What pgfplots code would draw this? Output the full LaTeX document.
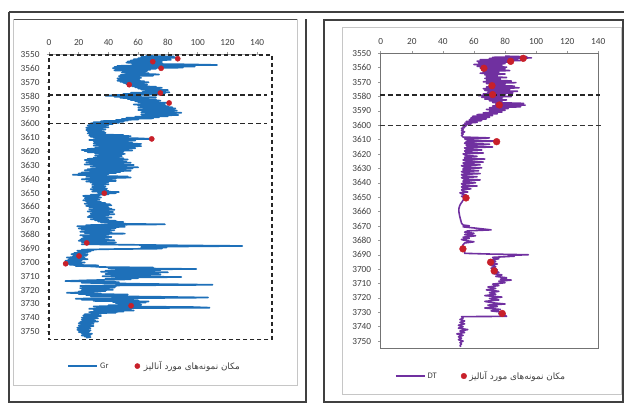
\documentclass[border=0pt]{standalone}
\usepackage{pgfplots}
\pgfplotsset{compat=1.18}
\usepackage{fontspec}
\setmainfont{Carlito}
\newfontfamily\arabicfont[Script=Arabic]{DejaVu Sans}
\TeXXeTstate=1
\definecolor{grblue}{RGB}{30,112,185}
\definecolor{dtpurple}{RGB}{112,48,160}
\definecolor{dotred}{RGB}{200,32,42}
\definecolor{ticktext}{RGB}{64,64,64}
\newcommand{\fa}{{\arabicfont\fontsize{8.8}{10}\selectfont\beginR مکان نمونه‌های مورد آنالیز\endR}}
\pgfplotsset{
  logstyle/.style={
    scale only axis, clip=false, y dir=reverse,
    /pgf/number format/assume math mode=true,
    /pgf/number format/1000 sep={},
    tick label style={font=\fontsize{9.3}{10}\selectfont, text=ticktext},
    yticklabel style={xshift=-3.5pt},
    xticklabel style={yshift=3pt},
    tick style={gray!80, line width=0.5pt},
    major tick length=2.5pt,
    xtick={0,20,...,140}, ytick={3550,3560,...,3750},
    xtick pos=upper, ytick pos=left,
    xticklabel pos=upper,
    tick align=outside,
    legend cell align=left,
  }
}
\begin{document}
\begin{tikzpicture}
\path[use as bounding box, fill=white] (0pt,0pt) rectangle (624pt,404pt);
% frames
\draw[line width=1.6pt, black!75] (9pt,392pt) -- (624pt,392pt);
\draw[line width=1.6pt, black!75] (9pt,392pt) -- (9pt,2pt) -- (306pt,2pt) -- (306pt,385pt);
\draw[line width=1.2pt, black!70] (13pt,384.5pt) -- (297pt,384.5pt);
\draw[gray!45, line width=0.8pt] (13pt,384.5pt) -- (13pt,19pt) -- (297pt,19pt) -- (297pt,384.5pt);
\draw[line width=1.6pt, black!75] (324pt,2pt) -- (324pt,384pt) -- (623.2pt,384pt) -- (623.2pt,2pt) -- cycle;
\draw[gray!45, line width=0.8pt] (342pt,10pt) rectangle (621pt,377pt);

% ---------------- GR -----------------
\begin{axis}[logstyle, at={(49pt,64.7pt)}, anchor=south west, width=223pt, height=285pt,
  xmin=0, xmax=150, ymin=3550, ymax=3755.5,
  axis line style={draw=none},
  legend style={at={(0.473,-0.094)}, anchor=center, draw=none, fill=none,
    font=\fontsize{8.5}{9}\selectfont, text=ticktext, legend columns=2,
    /tikz/every even column/.append style={column sep=24pt}},
]
\addplot[grblue, line width=1.7pt, line join=round,
  legend image code/.code={\draw[grblue, line width=2pt] (0pt,0pt) -- (29pt,0pt);}]
 table[x=v,y=d] {
v d
65 3551.2
84 3551.6
62 3552.0
87 3552.4
60 3552.8
80 3553.2
57 3553.6
82 3554.0
55 3554.4
74 3554.8
53 3555.2
76 3555.6
52 3556.0
70 3556.4
56 3556.8
95 3557.3
113 3557.7
60 3558.0
46 3558.4
98 3558.8
44 3559.2
90 3559.6
43 3560.0
72 3560.4
45 3560.8
68 3561.2
44 3561.6
66 3562.0
50 3562.4
64 3562.8
49 3563.2
67 3563.6
52 3564.0
74 3564.5
48 3565.0
70 3565.4
47 3565.8
60 3566.2
48 3566.6
62 3567.0
46 3567.4
58 3567.8
47 3568.2
61 3568.6
46 3569.0
64 3569.4
48 3569.8
67 3570.2
50 3570.6
62 3571.0
52 3571.4
66 3571.8
54 3572.2
63 3572.6
56 3573.0
72 3573.4
58 3573.8
76 3574.2
60 3574.6
74 3575.0
62 3575.4
80 3575.8
65 3576.2
78 3576.6
63 3577.0
81 3577.4
55 3577.8
78 3578.2
50 3578.6
75 3579.0
45 3579.4
38 3579.9
60 3580.2
44 3580.6
72 3581.0
48 3581.4
66 3581.8
53 3582.2
72 3582.6
55 3583.0
75 3583.4
58 3583.8
73 3584.2
60 3584.6
80 3585.0
62 3585.4
76 3585.8
57 3586.2
78 3586.6
60 3587.0
80 3587.4
62 3587.8
83 3588.2
60 3588.6
85 3589.0
64 3589.4
82 3589.8
60 3590.2
86 3590.6
63 3591.0
84 3591.4
62 3591.8
89 3592.2
65 3592.6
85 3593.0
62 3593.4
87 3593.8
64 3594.2
80 3594.6
58 3595.0
74 3595.4
52 3595.8
70 3596.2
49 3596.6
60 3597.0
45 3597.4
53 3597.8
35 3598.2
50 3598.6
30 3599.0
47 3599.4
28 3599.8
43 3600.2
27 3600.6
40 3601.0
26 3601.4
38 3601.8
27 3602.2
40 3602.6
25 3603.0
36 3603.4
26 3603.8
38 3604.2
25 3604.6
35 3605.0
26 3605.4
37 3605.8
27 3606.2
38 3606.6
26 3607.0
36 3607.4
28 3607.8
50 3608.2
27 3608.6
55 3609.0
28 3609.4
48 3609.8
30 3610.2
60 3610.6
69 3611.0
40 3611.4
27 3611.8
58 3612.2
30 3612.6
52 3613.0
31 3613.4
56 3613.8
30 3614.2
62 3614.6
32 3615.0
55 3615.4
30 3615.8
62 3616.2
34 3616.6
50 3617.0
31 3617.4
58 3617.8
26 3618.2
45 3618.6
22 3619.0
56 3619.4
24 3619.8
50 3620.2
26 3620.6
48 3621.0
31 3621.4
51 3621.8
34 3622.2
46 3622.6
31 3623.0
49 3623.4
33 3623.8
45 3624.2
30 3624.6
50 3625.0
26 3625.4
53 3625.8
24 3626.2
48 3626.6
27 3627.0
52 3627.4
25 3627.8
55 3628.2
28 3628.6
50 3629.0
24 3629.4
57 3629.8
30 3630.2
52 3630.6
28 3631.0
60 3631.5
32 3632.0
56 3632.4
26 3632.8
50 3633.2
24 3633.6
55 3634.0
30 3634.4
48 3634.8
22 3635.2
45 3635.6
20 3636.0
40 3636.4
16 3636.9
38 3637.3
25 3637.7
53 3638.1
30 3638.5
55 3638.9
25 3639.3
45 3639.7
22 3640.1
42 3640.5
27 3640.9
45 3641.3
25 3641.7
40 3642.1
28 3642.5
38 3642.9
30 3643.3
40 3643.7
29 3644.1
36 3644.5
31 3644.9
38 3645.3
29 3645.7
35 3646.1
30 3646.5
39 3646.9
28 3647.3
34 3647.7
30 3648.1
40 3648.5
29 3648.9
47 3649.3
33 3649.7
45 3650.1
36 3650.5
40 3650.9
28 3651.3
34 3651.7
23 3652.1
33 3652.5
25 3652.9
35 3653.3
24 3653.7
30 3654.1
26 3654.5
34 3654.9
23 3655.3
32 3655.7
25 3656.1
35 3656.5
26 3656.9
38 3657.3
24 3657.7
41 3658.1
28 3658.5
42 3658.9
25 3659.3
36 3659.7
27 3660.1
40 3660.5
30 3660.9
42 3661.3
27 3661.7
44 3662.1
29 3662.5
40 3662.9
26 3663.3
43 3663.7
30 3664.1
38 3664.5
28 3664.9
44 3665.3
30 3665.7
40 3666.1
27 3666.5
36 3666.9
26 3667.3
42 3667.7
30 3668.1
38 3668.5
28 3668.9
40 3669.3
31 3669.7
45 3670.1
33 3670.5
50 3670.9
35 3671.3
45 3671.7
40 3672.1
78 3672.6
45 3672.9
25 3673.2
40 3673.6
19 3674.0
51 3674.4
22 3674.8
45 3675.2
20 3675.6
40 3676.0
22 3676.4
44 3676.8
25 3677.2
38 3677.6
21 3678.0
42 3678.4
24 3678.8
51 3679.3
28 3679.7
40 3680.1
21 3680.5
37 3680.9
23 3681.3
42 3681.7
25 3682.1
35 3682.5
22 3682.9
40 3683.3
21 3683.7
44 3684.1
20 3684.5
38 3684.9
22 3685.3
45 3685.7
25 3686.1
40 3686.5
22 3686.9
50 3687.3
90 3687.8
130 3688.2
95 3688.5
62 3688.9
79 3689.3
62 3689.7
76 3690.1
40 3690.5
22 3690.9
30 3691.3
19 3691.7
28 3692.1
20 3692.5
26 3692.9
17 3693.3
24 3693.7
15 3694.1
26 3694.5
20 3694.9
25 3695.3
16 3695.7
22 3696.1
12 3696.5
24 3696.9
14 3697.3
26 3697.7
13 3698.1
22 3698.5
11 3698.9
20 3699.3
13 3699.7
24 3700.1
11 3700.6
10 3701.0
22 3701.4
14 3701.8
33 3702.2
18 3702.6
30 3703.0
35 3703.4
70 3703.8
40 3704.2
99 3704.8
45 3705.2
75 3705.6
38 3706.0
70 3706.4
35 3706.8
80 3707.2
40 3707.6
65 3708.0
38 3708.4
75 3708.8
42 3709.2
68 3709.6
36 3710.0
89 3710.6
45 3711.0
60 3711.4
38 3711.8
55 3712.2
40 3712.6
25 3713.0
11 3713.5
30 3713.9
47 3714.3
22 3714.7
40 3715.1
60 3715.5
110 3716.2
50 3716.6
21 3717.0
45 3717.4
25 3717.8
44 3718.2
21 3718.6
40 3719.0
24 3719.4
43 3719.8
22 3720.2
38 3720.6
20 3721.0
30 3721.4
12 3722.0
35 3722.4
20 3722.8
53 3723.2
25 3723.6
50 3724.0
28 3724.4
70 3724.8
107 3725.4
60 3725.8
18 3726.2
45 3726.6
22 3727.0
60 3727.4
30 3727.8
67 3728.2
43 3728.6
65 3729.0
45 3729.4
60 3729.8
48 3730.2
62 3730.6
40 3731.0
55 3731.4
30 3731.8
95 3732.2
108 3732.7
40 3733.1
27 3733.5
55 3733.9
30 3734.3
57 3734.7
35 3735.1
50 3735.5
27 3735.9
45 3736.3
30 3736.7
35 3737.1
24 3737.5
33 3737.9
23 3738.3
35 3738.7
25 3739.1
32 3739.5
22 3739.9
33 3740.3
24 3740.7
30 3741.1
22 3741.5
31 3741.9
23 3742.3
33 3742.7
21 3743.1
29 3743.5
20 3743.9
30 3744.3
22 3744.7
28 3745.1
20 3745.5
30 3745.9
21 3746.3
27 3746.7
19 3747.1
28 3747.5
20 3747.9
26 3748.3
19 3748.7
28 3749.1
21 3749.5
27 3749.9
20 3750.3
26 3750.7
22 3751.1
29 3751.5
23 3751.9
28 3752.3
22 3752.7
27 3753.1
24 3753.5
28 3753.9
25 3754.3
};
\addlegendentry{Gr}
\addplot[only marks, mark=*, mark size=2.6pt, mark options={fill=dotred, draw=dotred},
  legend image code/.code={\fill[dotred] (2.6pt,0pt) circle (2.6pt); \path (7pt,0pt);}]
 coordinates {(86.6,3553.2) (69.8,3555.3) (75.4,3560.1) (54,3571.9) (74.9,3577.9) (80.8,3585.1)
  (69.1,3611) (37.2,3650.2) (25.4,3686) (20.2,3695.4) (11.2,3701) (55.2,3731.3)};
\addlegendentry{\fa}
\addplot[forget plot, gray!70, line width=0.6pt] coordinates {(0,3550) (144,3550)};
\addplot[forget plot, black!85, line width=1.3pt, dash pattern=on 4pt off 3pt]
  coordinates {(0,3550.5) (150,3550.5) (150,3755.5) (0,3755.5) (0,3550.5)};
\addplot[forget plot, black!85, line width=1.3pt, dash pattern=on 5pt off 3pt]
  coordinates {(-0.5,3579.3) (146.5,3579.3)};
\addplot[forget plot, black!85, line width=1.3pt, dash pattern=on 5pt off 3pt]
  coordinates {(-0.5,3600) (146.5,3600)};
\end{axis}

% ---------------- DT -----------------
\begin{axis}[logstyle, at={(380.7pt,55.7pt)}, anchor=south west, width=217.6pt, height=295pt,
  xmin=0, xmax=140, ymin=3550, ymax=3755,
  axis line style={gray!90!black, line width=0.7pt},
  legend style={at={(0.461,-0.094)}, anchor=center, draw=none, fill=none,
    font=\fontsize{8.5}{9}\selectfont, text=ticktext, legend columns=2,
    /tikz/every even column/.append style={column sep=22pt}},
]
\addplot[dtpurple, line width=1.6pt, line join=round,
  legend image code/.code={\draw[dtpurple, line width=1.6pt] (0pt,0pt) -- (29pt,0pt);}]
 table[x=v,y=d] {
v d
80 3552.0
94 3552.4
72 3552.8
97 3553.2
70 3553.6
88 3554.0
64 3554.5
90 3555.0
62 3555.5
84 3556.0
63 3556.6
80 3557.2
60 3557.8
78 3558.4
62 3559.0
81 3559.6
64 3560.2
80 3560.8
65 3561.4
83 3562.0
66 3562.6
76 3563.2
64 3563.8
80 3564.4
67 3565.0
75 3565.6
68 3566.2
81 3566.8
67 3567.4
77 3568.0
68 3568.6
84 3569.2
66 3569.8
87 3570.4
68 3571.0
80 3571.6
70 3572.2
86 3572.8
68 3573.4
89 3574.0
66 3574.6
83 3575.2
67 3575.8
88 3576.4
69 3577.0
85 3577.6
66 3578.2
80 3578.8
63 3579.4
84 3580.0
65 3580.6
78 3581.2
67 3581.8
81 3582.4
70 3583.0
78 3583.6
72 3584.2
92 3584.8
74 3585.4
93 3586.0
72 3586.6
90 3587.2
70 3587.8
82 3588.4
68 3589.0
80 3589.6
70 3590.2
78 3590.8
66 3591.4
75 3592.0
62 3592.6
72 3593.2
59 3593.8
70 3594.4
58 3595.0
68 3595.6
57 3596.2
65 3596.8
55 3597.4
62 3598.0
54 3598.6
58 3599.2
53 3599.8
55 3600.4
53 3601.0
54 3601.6
52 3602.2
53 3603.0
52 3603.8
54 3604.6
52 3605.4
53 3606.2
52 3607.0
53 3608.2
70 3608.8
54 3609.4
56 3610.4
74 3611.0
55 3611.6
54 3612.6
70 3613.2
55 3613.8
56 3614.6
72 3615.1
54 3615.7
55 3616.6
65 3617.2
54 3617.8
55 3618.8
66 3619.3
53 3619.9
55 3621.0
62 3621.6
54 3622.2
54 3623.0
67 3623.5
53 3624.1
55 3625.0
66 3625.6
53 3626.2
54 3627.0
64 3627.5
52 3628.1
54 3629.0
65 3629.6
53 3630.2
53 3631.0
63 3631.6
52 3632.2
54 3633.0
64 3633.6
52 3634.2
53 3635.2
62 3635.8
52 3636.4
54 3637.4
64 3638.0
53 3638.6
53 3639.4
61 3640.0
52 3640.6
53 3641.6
62 3642.2
52 3642.8
53 3643.6
58 3644.2
52 3644.8
53 3645.8
56 3646.4
51 3647.0
53 3648.0
55 3648.6
52 3649.4
55 3650.4
54 3651.0
53 3652.0
52.5 3653.0
51.5 3654.5
50.8 3656.0
50.3 3658.0
50.3 3660.0
50.6 3662.0
51 3664.0
51.5 3666.0
52 3668.0
53 3669.3
57 3669.9
53 3670.6
62 3671.6
71 3672.7
56 3673.4
54 3674.3
60 3675.1
54 3676.0
61 3676.8
53 3677.8
57 3678.6
52 3679.4
55 3680.2
60 3681.0
54 3681.8
53 3683.0
52.5 3684.4
53 3685.2
52.5 3686.0
53.5 3687.0
54 3688.0
54 3689.0
70 3689.5
95 3690.0
82 3690.4
86 3691.0
72 3691.8
76 3692.8
70 3693.6
74 3694.6
70 3695.4
75 3696.4
71 3697.4
74 3698.4
71 3699.4
75 3700.4
73 3701.2
76 3702.2
72 3703.0
78 3704.0
74 3705.0
81 3706.0
77 3707.0
84 3707.6
76 3708.4
80 3709.4
72 3710.4
76 3711.4
69 3712.4
74 3713.4
68 3714.4
76 3715.4
70 3716.4
74 3717.4
67 3718.4
78 3719.4
70 3720.4
76 3721.4
67 3722.4
72 3723.4
80 3724.2
69 3725.0
75 3726.0
67 3727.0
77 3728.0
71 3729.0
79 3730.0
76 3731.0
80 3732.0
81 3732.8
52 3733.0
53 3734.0
51 3735.0
54 3736.0
51 3737.0
54 3738.0
50 3739.0
53 3740.0
50 3741.0
56 3742.0
51 3743.0
54 3744.0
49 3745.0
53 3746.0
50 3747.0
52 3748.0
50 3749.0
53 3750.0
51 3751.0
52 3752.0
51 3753.0
51.5 3754.0
};
\addlegendentry{DT}
\addplot[only marks, mark=*, mark size=3.4pt, mark options={fill=dotred, draw=dotred},
  legend image code/.code={\fill[dotred] (2.8pt,0pt) circle (2.8pt); \path (6pt,0pt);}]
 coordinates {(91.7,3553.5) (83.6,3555.6) (66.4,3560.4) (71.6,3572.5) (72,3578.7) (76.3,3585.9)
  (74.6,3611.4) (54.9,3650.5) (52.9,3685.9) (70.7,3695.2) (73,3701.2) (78.2,3730.8)};
\addlegendentry{\fa}
\addplot[forget plot, black!85, line width=1.6pt, dash pattern=on 5pt off 3pt]
  coordinates {(-0.5,3579) (141,3579)};
\addplot[forget plot, black!80, line width=0.8pt, dash pattern=on 5pt off 3pt]
  coordinates {(-0.5,3600.3) (142.5,3600.3)};
\end{axis}
\end{tikzpicture}
\end{document}
